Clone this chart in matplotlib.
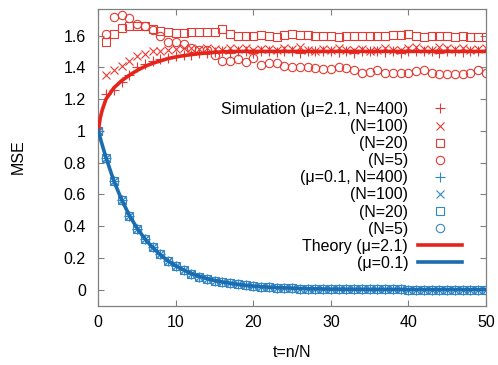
import matplotlib
matplotlib.use("Agg")
import matplotlib.pyplot as plt
from matplotlib.ticker import FuncFormatter

plt.rcParams['font.family'] = ['Liberation Sans', 'DejaVu Sans']

# simulation points, one per t = 0..50
t_sim = list(range(0, 51))

red_n400 = [1.0, 1.23, 1.26, 1.31, 1.35, 1.40, 1.42, 1.44, 1.45, 1.46, 1.47,
            1.48, 1.48, 1.49, 1.49, 1.495, 1.50, 1.49, 1.50, 1.50, 1.49,
            1.50, 1.50, 1.495, 1.50, 1.50, 1.49, 1.50, 1.50, 1.505, 1.50,
            1.495, 1.50, 1.49, 1.50, 1.50, 1.50, 1.495, 1.50, 1.49, 1.50,
            1.50, 1.505, 1.50, 1.49, 1.50, 1.50, 1.495, 1.50, 1.50, 1.50]
red_n100 = [1.0, 1.35, 1.385, 1.41, 1.44, 1.47, 1.485, 1.50, 1.505, 1.51, 1.515,
            1.52, 1.52, 1.515, 1.52, 1.515, 1.51, 1.52, 1.515, 1.52, 1.51,
            1.515, 1.515, 1.51, 1.52, 1.515, 1.525, 1.51, 1.505, 1.515, 1.51,
            1.52, 1.51, 1.51, 1.515, 1.505, 1.51, 1.52, 1.51, 1.51, 1.52,
            1.525, 1.515, 1.51, 1.525, 1.52, 1.515, 1.52, 1.51, 1.515, 1.52]
red_n20 = [1.0, 1.556, 1.608, 1.646, 1.66, 1.66, 1.662, 1.639, 1.631, 1.625, 1.618,
           1.618, 1.62, 1.62, 1.62, 1.625, 1.64, 1.61, 1.597, 1.597, 1.597,
           1.604, 1.597, 1.589, 1.604, 1.61, 1.604, 1.604, 1.597, 1.597, 1.597,
           1.593, 1.597, 1.597, 1.597, 1.597, 1.597, 1.597, 1.604, 1.604, 1.61,
           1.597, 1.593, 1.597, 1.597, 1.597, 1.593, 1.597, 1.593, 1.593, 1.589]
red_n5 = [1.0, 1.61, 1.717, 1.73, 1.71, 1.67, 1.66, 1.635, 1.595, 1.56, 1.56,
          1.545, 1.52, 1.51, 1.51, 1.48, 1.442, 1.442, 1.451, 1.436, 1.457,
          1.415, 1.43, 1.426, 1.405, 1.40, 1.40, 1.40, 1.394, 1.388, 1.388,
          1.40, 1.394, 1.38, 1.367, 1.372, 1.38, 1.363, 1.363, 1.367, 1.363,
          1.375, 1.38, 1.363, 1.358, 1.358, 1.358, 1.358, 1.363, 1.38, 1.367]

# the four mu=0.1 runs lie on top of each other
blue_sim = [1.0, 0.83, 0.682, 0.566, 0.465, 0.383, 0.321, 0.266, 0.224, 0.178, 0.147,
            0.122, 0.101, 0.08, 0.067, 0.055, 0.048, 0.04, 0.033, 0.027, 0.022,
            0.018, 0.015, 0.013, 0.011, 0.009, 0.007, 0.006, 0.005, 0.004, 0.003,
            0.003, 0.002, 0.002, 0.002, 0.001, 0.001, 0.001, 0.001, 0.001, 0.0,
            0.0, 0.0, 0.0, 0.0, 0.0, 0.0, 0.0, 0.0, 0.0, 0.0]

# theory curves
t_th = [0, 0.25, 0.5] + list(range(1, 51))
red_th = [1.0, 1.08, 1.13, 1.20, 1.27, 1.315, 1.35, 1.38, 1.405, 1.425, 1.44,
          1.455, 1.465, 1.473, 1.48, 1.486, 1.49, 1.494, 1.497, 1.499, 1.5,
          1.5, 1.5, 1.5, 1.5, 1.5, 1.5, 1.5, 1.5, 1.5, 1.5,
          1.5, 1.5, 1.5, 1.5, 1.5, 1.5, 1.5, 1.5, 1.5, 1.5,
          1.5, 1.5, 1.5, 1.5, 1.5, 1.5, 1.5, 1.5, 1.5, 1.5, 1.5, 1.5]
blue_th = [1.0, 0.955, 0.912, 0.83, 0.685, 0.567, 0.468, 0.387, 0.32, 0.265, 0.219,
           0.181, 0.15, 0.124, 0.102, 0.085, 0.07, 0.058, 0.048, 0.04, 0.033,
           0.027, 0.022, 0.018, 0.015, 0.013, 0.011, 0.009, 0.007, 0.006, 0.005,
           0.004, 0.003, 0.003, 0.002, 0.002, 0.002, 0.001, 0.001, 0.001, 0.001,
           0.001, 0.0, 0.0, 0.0, 0.0, 0.0, 0.0, 0.0, 0.0, 0.0, 0.0, 0.0]

red = '#e5241c'
red_m = '#e53a33'
blue = '#1b6db0'
blue_m = '#3387c8'
fs = 11.5

fig = plt.figure(figsize=(4.98, 3.65), dpi=100)
ax = fig.add_axes([0.1974, 0.163, 0.7785, 0.8137])

mk = dict(ls='none', mfc='none', mew=0.8)
ax.plot(t_sim, red_n400, marker='+', ms=6.5, color=red_m, label='Simulation (μ=2.1, N=400)', **mk)
ax.plot(t_sim, red_n100, marker='x', ms=5.5, color=red_m, label='(N=100)', **mk)
ax.plot(t_sim, red_n20, marker='s', ms=5.8, color=red_m, label='(N=20)', **mk)
ax.plot(t_sim, red_n5, marker='o', ms=6, color=red_m, label='(N=5)', **mk)
ax.plot(t_sim, blue_sim, marker='+', ms=6.5, color=blue_m, label='(μ=0.1, N=400)', **mk)
ax.plot(t_sim, blue_sim, marker='x', ms=5.5, color=blue_m, label='(N=100)', **mk)
ax.plot(t_sim, blue_sim, marker='s', ms=5.8, color=blue_m, label='(N=20)', **mk)
ax.plot(t_sim, blue_sim, marker='o', ms=6, color=blue_m, label='(N=5)', **mk)
ax.plot(t_th, red_th, color=red, lw=2.6, label='Theory (μ=2.1)', zorder=5)
ax.plot(t_th, blue_th, color=blue, lw=2.6, label='(μ=0.1)', zorder=5)

ax.set_xlim(0, 50)
ax.set_ylim(-0.1, 1.77)
ax.set_xticks([0, 10, 20, 30, 40, 50])
ax.set_yticks([0, 0.2, 0.4, 0.6, 0.8, 1.0, 1.2, 1.4, 1.6])
ax.yaxis.set_major_formatter(FuncFormatter(lambda v, p: f"{v:g}"))
ax.tick_params(direction='in', length=4, width=0.8, color='#808080',
               top=True, right=True, labelsize=fs)
ax.tick_params(axis='y', pad=9)
ax.tick_params(axis='x', pad=6.5)
for s in ax.spines.values():
    s.set_color('#808080')
    s.set_linewidth(0.9)

ax.set_xlabel('t=n/N', fontsize=fs, labelpad=11)
ax.set_ylabel('MSE', fontsize=fs, labelpad=27)

ax.legend(loc='upper right', bbox_to_anchor=(0.939, 0.685), markerfirst=False,
          frameon=False, fontsize=fs, handlelength=2.76, handletextpad=0.63,
          labelspacing=0.13, borderpad=0, borderaxespad=0)

fig.savefig('out.png', dpi=100)
